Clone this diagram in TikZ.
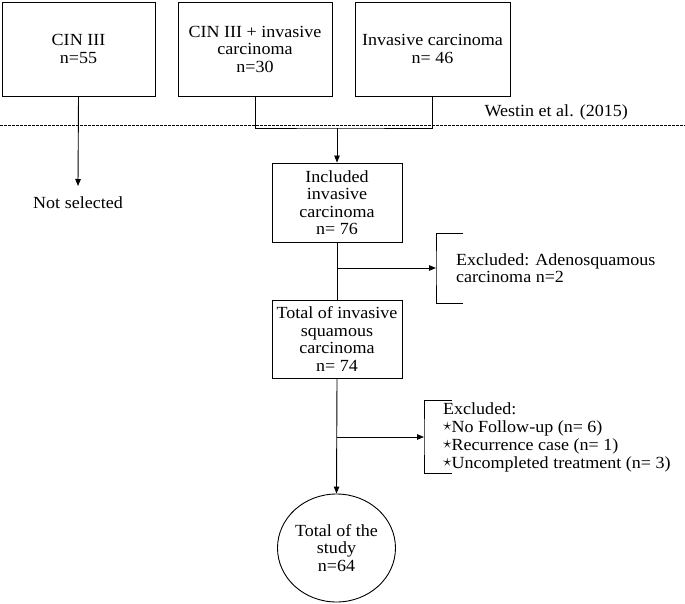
\documentclass[tikz,border=0pt]{standalone}
\usepackage{fontspec}
\setmainfont[FakeStretch=1.06]{Liberation Serif}
\usetikzlibrary{arrows.meta,shapes.geometric}
\begin{document}
\begin{tikzpicture}[x=1pt,y=-1pt,
  font=\fontsize{17}{17.5}\selectfont,
  box/.style={draw, line width=0.9pt, align=center, inner sep=0pt},
  ln/.style={line width=0.9pt},
  arr/.style={ln, -{Triangle[length=7pt,width=5.5pt]}},
  txt/.style={align=left, anchor=west, inner sep=0pt}]
\useasboundingbox (0,0) rectangle (685,604);
\newcommand{\stm}{\smash{\raisebox{0.25ex}{$\star$}}}
% top boxes
\node[box, minimum width=153pt, minimum height=94pt] (b1) at (78.5,49) {CIN III\\n=55};
\node[box, minimum width=154pt, minimum height=94pt] (b2) at (255,49) {CIN III + invasive\\carcinoma\\n=30};
\node[box, minimum width=155pt, minimum height=94pt] (b3) at (432.5,49) {Invasive carcinoma\\n= 46};
\node[anchor=east, inner sep=0pt] (west) at (628,112) {Westin et al. (2015)};
\coordinate (dl) at (0,125);
\coordinate (dr) at (685,125);
\draw[dash pattern=on 2.5pt off 1.5pt, line width=0.6pt] (dl) -- (dr);
% not selected
\node[inner sep=0pt] (ns) at (78,203) {Not selected};
\draw[arr] (b1.south) -- (78,186);
% join
\coordinate (j) at (337,128);
\draw[ln] (b2.south) |- (j) -| (b3.south);
\node[box, minimum width=130pt, minimum height=79pt] (inc) at (337,202.5) {Included\\invasive\\carcinoma\\n= 76};
\draw[arr] (j) -- (inc.north);
\node[box, minimum width=130pt, minimum height=78pt] (tot) at (337,339) {Total of invasive\\squamous\\carcinoma\\n= 74};
\draw[ln] (inc.south) -- (tot.north);
% exclusion 1
\coordinate (e1) at (337,268);
\coordinate (br1t) at (463,233);
\coordinate (br1m) at (436,268);
\coordinate (br1b) at (463,303);
\draw[ln] (br1t) -| (br1m) |- (br1b);
\draw[arr] (e1) -- (br1m);
\node[txt] (ex1) at (456,268) {Excluded: Adenosquamous\\carcinoma n=2};
% final
\node[ellipse, draw, line width=0.9pt, minimum width=118pt, minimum height=108pt, align=center, inner sep=0pt] (fin) at (336.5,548) {Total of the\\study\\n=64};
\draw[arr] (tot.south) -- (fin.north);
% exclusion 2
\coordinate (e2) at (337,437);
\coordinate (br2t) at (452,400);
\coordinate (br2m) at (424,437);
\coordinate (br2b) at (452,473);
\draw[ln] (br2t) -| (br2m) |- (br2b);
\draw[arr] (e2) -- (br2m);
\node[txt, font=\fontsize{17}{18}\selectfont] (ex2) at (443,437) {Excluded:\\\stm No Follow-up (n= 6)\\\stm Recurrence case (n= 1)\\\stm Uncompleted treatment (n= 3)};
\end{tikzpicture}
\end{document}
